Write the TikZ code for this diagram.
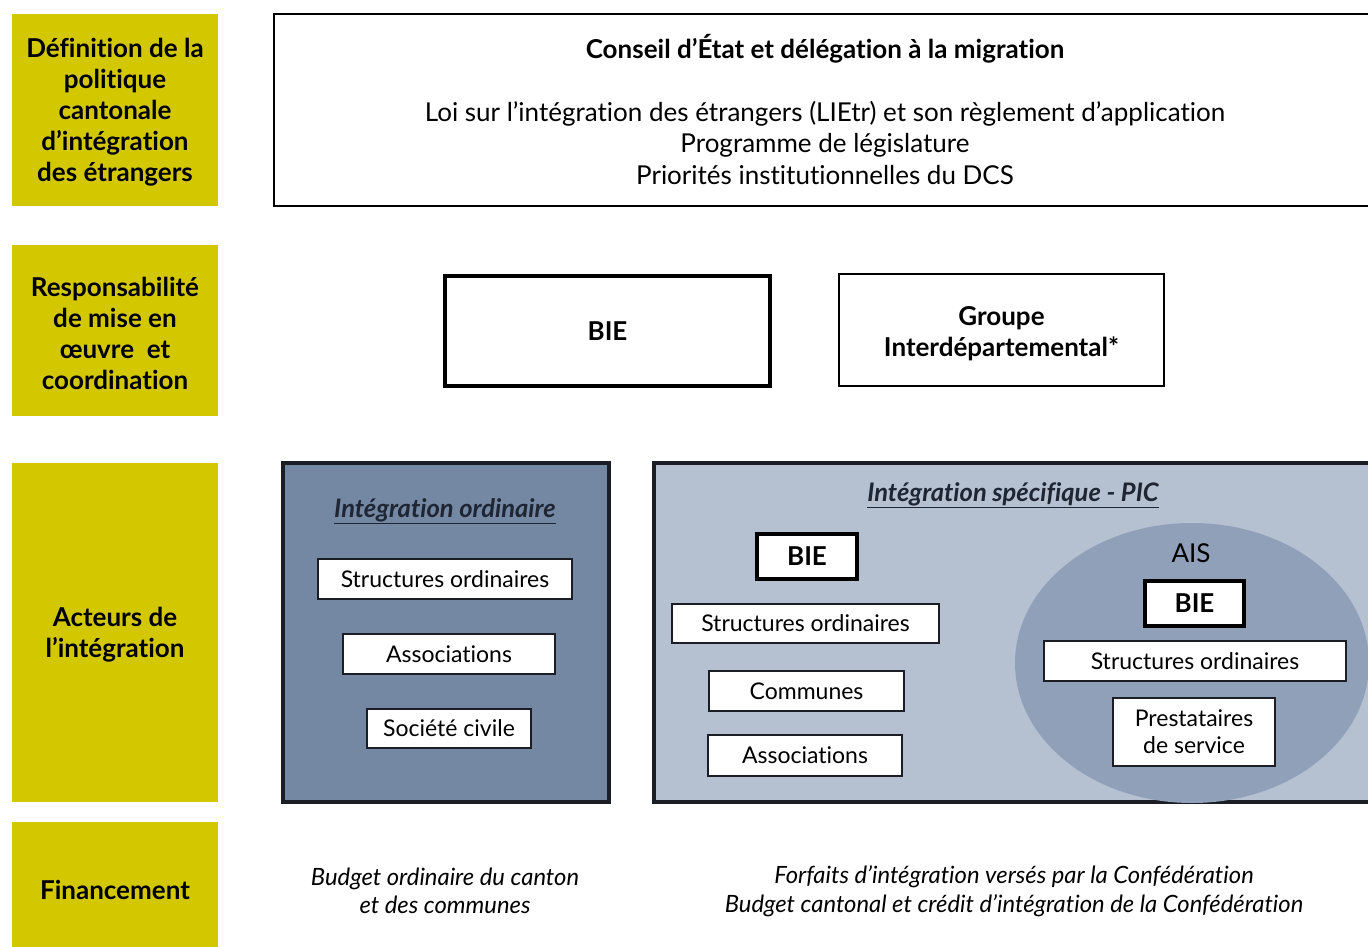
\documentclass[tikz,border=0pt]{standalone}
\usepackage{fontspec}
\setmainfont{Lato}[Ligatures={NoCommon,NoRare}]
\usetikzlibrary{shapes.geometric}
\definecolor{jaune}{RGB}{211,200,0}
\definecolor{ordfill}{RGB}{116,135,163}
\definecolor{specfill}{RGB}{181,192,209}
\definecolor{aisfill}{RGB}{144,160,185}
\definecolor{bord}{RGB}{27,30,36}
\definecolor{titre}{RGB}{30,38,52}
\tikzset{
  x=1pt, y=-1pt,
  rubrique/.style={fill=jaune, inner sep=0},
  intitule/.style={align=center, font=\bfseries\fontsize{26}{31}\selectfont},
  fin/.style={draw=black, line width=1.5pt, inner sep=0},
  epais/.style={draw=black, line width=3.5pt, fill=white, inner sep=0, font=\bfseries\fontsize{26}{31}\selectfont},
  mince/.style={draw=black, line width=1.5pt, fill=white, inner sep=0},
  acteur/.style={draw=bord, line width=1.3pt, fill=white, inner sep=0, align=center, font=\fontsize{23}{27}\selectfont},
  zone/.style={draw=bord, line width=4pt, inner sep=0},
  soustitre/.style={text=titre, font=\bfseries\itshape\fontsize{25.5}{30}\selectfont},
  texte/.style={align=center, font=\fontsize{26}{31.5}\selectfont},
  budget/.style={align=center, font=\itshape\fontsize{23.8}{28.5}\selectfont},
}
\begin{document}
\begin{tikzpicture}
\useasboundingbox (0,0) rectangle (1368,946);
\clip (0,0) rectangle (1368,946);
\fill[white] (0,0) rectangle (1368,946);

% Rubriques de gauche
\node[rubrique, minimum width=206, minimum height=192] (r1) at (115,110) {};
\node[intitule] (t1) at (115,112)
  {Définition de la\\politique\\cantonale\\d’intégration\\des étrangers};
\node[rubrique, minimum width=206, minimum height=171] (r2) at (115,330.5) {};
\node[intitule] (t2) at (115,333)
  {Responsabilité\\de mise en\\œuvre\ \ et\\coordination};
\node[rubrique, minimum width=206, minimum height=339] (r3) at (115,632.5) {};
\node[intitule] (t3) at (115,635) {Acteurs de\\l’intégration};
\node[rubrique, minimum width=206, minimum height=134] (r4) at (115,889) {};
\node[intitule] (t4) at (115,890) {Financement};

% Définition de la politique
\node[fin, minimum width=1112, minimum height=192] (cadre) at (830,110) {};
\node[font=\bfseries\fontsize{26}{31}\selectfont] (conseil) at (825,49)
  {Conseil d’État et délégation à la migration};
\node[texte] (bases) at (825,143)
  {Loi sur l’intégration des étrangers (LIEtr) et son règlement d’application\\
   Programme de législature\\Priorités institutionnelles du DCS};

% Mise en oeuvre
\node[epais, minimum width=325, minimum height=110] (bie) at (607.5,331) {BIE};
\node[mince, minimum width=325, minimum height=112] (groupe) at (1001.5,330) {};
\node[intitule] (tgroupe) at (1001.5,334) {Groupe\\Interdépartemental*};

% Intégration ordinaire
\node[zone, fill=ordfill, minimum width=326, minimum height=339] (ordi) at (446,632.5) {};
\node[soustitre] (tordi) at (445,511) {\underline{Intégration ordinaire}};
\node[acteur, minimum width=254, minimum height=40] (so1) at (445,579) {Structures ordinaires};
\node[acteur, minimum width=212, minimum height=40] (as1) at (449,654) {Associations};
\node[acteur, minimum width=164, minimum height=39] (sc1) at (449,728.5) {Société civile};

% Intégration spécifique
\node[zone, fill=specfill, minimum width=726, minimum height=339] (spec) at (1017,632.5) {};
\node[soustitre] (tspec) at (1013,495) {\underline{Intégration spécifique - PIC}};
\node[epais, minimum width=100, minimum height=45] (bie2) at (807,556.5) {BIE};
\node[acteur, minimum width=267, minimum height=39] (so2) at (805.5,623.5) {Structures ordinaires};
\node[acteur, minimum width=195, minimum height=40] (co2) at (806.5,691) {Communes};
\node[acteur, minimum width=194, minimum height=41] (as2) at (805,755.5) {Associations};

% AIS
\node[ellipse, fill=aisfill, inner sep=0, minimum width=354, minimum height=280] (ais) at (1192,663) {};
\node[font=\fontsize{26}{31}\selectfont] (tais) at (1191,553) {AIS};
\node[epais, minimum width=99, minimum height=45] (bie3) at (1194.5,603.5) {BIE};
\node[acteur, minimum width=302, minimum height=40] (so3) at (1195,661) {Structures ordinaires};
\node[acteur, minimum width=162, minimum height=68] (pr3) at (1194,732) {Prestataires\\de service};

% Financement
\node[budget] (b1) at (445,891) {Budget ordinaire du canton\\et des communes};
\node[budget] (b2) at (1014,891)
  {Forfaits d’intégration versés par la Confédération\\
   Budget cantonal et crédit d’intégration de la Confédération};
\end{tikzpicture}
\end{document}
